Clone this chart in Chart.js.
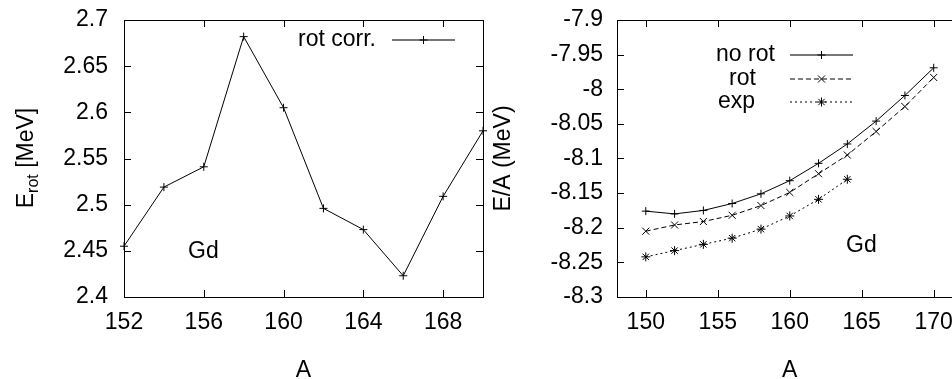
<!DOCTYPE html>
<html>
<head>
<meta charset="utf-8">
<script src="https://cdn.jsdelivr.net/npm/chart.js@4.4.0/dist/chart.umd.min.js"></script>
<style>
  html, body { margin: 0; padding: 0; background: #fff; overflow: hidden; }
  #wrap { position: relative; width: 952px; height: 379px; overflow: hidden; }
  #left { position: absolute; left: 0; top: 0; width: 488px; height: 379px; }
  #right { position: absolute; left: 488px; top: 0; width: 490px; height: 379px; }
</style>
</head>
<body>
<div id="wrap">
  <canvas id="left" width="488" height="379"></canvas>
  <canvas id="right" width="490" height="379"></canvas>
</div>
<script>
// rotational correction energy vs mass number
const massRot = [152, 154, 156, 158, 160, 162, 164, 166, 168, 170];
const eRot = [2.455, 2.519, 2.541, 2.682, 2.605, 2.496, 2.473, 2.423, 2.509, 2.58];

// binding energy per nucleon
const massBind = [150, 152, 154, 156, 158, 160, 162, 164, 166, 168, 170];
const bindNoRot = [-8.176, -8.180, -8.175, -8.165, -8.151, -8.132, -8.107, -8.079, -8.046, -8.009, -7.969];
const bindRot = [-8.205, -8.196, -8.191, -8.182, -8.168, -8.149, -8.122, -8.095, -8.061, -8.025, -7.983];
const massExp = [150, 152, 154, 156, 158, 160, 162, 164];
const bindExp = [-8.242, -8.233, -8.224, -8.215, -8.202, -8.183, -8.159, -8.130];

// tick labels
const leftXTicks = [152, 156, 160, 164, 168];
const leftYTicks = [2.4, 2.45, 2.5, 2.55, 2.6, 2.65, 2.7];
const rightXTicks = [150, 155, 160, 165, 170];
const rightYTicks = [-8.3, -8.25, -8.2, -8.15, -8.1, -8.05, -8, -7.95, -7.9];

const FONT_FAMILY = '"Liberation Sans", Arial, sans-serif';
const FONT = '23px ' + FONT_FAMILY;

// E_rot [MeV], drawn piecewise so "rot" can sit as a subscript
const eRotTitle = [
  { text: 'E', size: 23, shift: 0 },
  { text: 'rot', size: 16, shift: 5 },
  { text: ' [MeV]', size: 23, shift: 0 }
];

const pts = (xs, ys) => xs.map((x, i) => ({ x: x, y: ys[i] }));
const fixedTicks = (list) => (scale) => { scale.ticks = list.map(v => ({ value: v })); };

// box round the plot with inward ticks on all four sides
const framePlugin = {
  id: 'frame',
  afterDatasetsDraw(chart) {
    const { ctx, chartArea: a, scales } = chart;
    const len = 7;
    ctx.save();
    ctx.strokeStyle = '#000';
    ctx.lineWidth = 1;
    ctx.beginPath();
    scales.x.ticks.forEach(t => {
      const px = Math.round(scales.x.getPixelForValue(t.value)) + 0.5;
      ctx.moveTo(px, a.bottom); ctx.lineTo(px, a.bottom - len);
      ctx.moveTo(px, a.top); ctx.lineTo(px, a.top + len);
    });
    scales.y.ticks.forEach(t => {
      const py = Math.round(scales.y.getPixelForValue(t.value)) + 0.5;
      ctx.moveTo(a.left, py); ctx.lineTo(a.left + len, py);
      ctx.moveTo(a.right, py); ctx.lineTo(a.right - len, py);
    });
    ctx.stroke();
    ctx.strokeRect(Math.round(a.left) + 0.5, Math.round(a.top) + 0.5,
      Math.round(a.right - a.left), Math.round(a.bottom - a.top));
    ctx.restore();
  }
};

// gnuplot-like key plus free text labels
const keyPlugin = {
  id: 'key',
  afterDraw(chart, args, opts) {
    const ctx = chart.ctx;
    ctx.save();
    ctx.font = FONT;
    ctx.textBaseline = 'middle';
    ctx.fillStyle = '#000';
    chart.data.datasets.forEach((ds, i) => {
      const row = opts.rows[i];
      if (!row) return;
      ctx.textAlign = row.align || 'left';
      ctx.fillText(ds.label, row.tx, row.y);
      ctx.strokeStyle = row.color || '#000';
      ctx.lineWidth = row.width || 1;
      ctx.setLineDash(ds.borderDash || []);
      ctx.beginPath();
      ctx.moveTo(opts.x0, row.y);
      ctx.lineTo(opts.x1, row.y);
      ctx.stroke();
      ctx.setLineDash([]);
      ctx.strokeStyle = '#000';
      ctx.lineWidth = 1;
      Chart.helpers.drawPoint(ctx, {
        pointStyle: ds.pointStyle, radius: ds.pointRadius, borderWidth: 1, rotation: 0
      }, (opts.x0 + opts.x1) / 2, row.y);
    });
    ctx.textAlign = 'left';
    (opts.notes || []).forEach(n => ctx.fillText(n.text, n.x, n.y));
    ctx.restore();
  }
};

// rotated y title with subscript on the left panel
const subTitlePlugin = {
  id: 'subTitle',
  afterDraw(chart) {
    const ctx = chart.ctx;
    ctx.save();
    ctx.translate(25, 158);
    ctx.rotate(-Math.PI / 2);
    ctx.fillStyle = '#000';
    ctx.textAlign = 'left';
    ctx.textBaseline = 'alphabetic';
    let total = 0;
    eRotTitle.forEach(p => {
      ctx.font = p.size + 'px ' + FONT_FAMILY;
      total += ctx.measureText(p.text).width;
    });
    let cx = -total / 2;
    eRotTitle.forEach(p => {
      ctx.font = p.size + 'px ' + FONT_FAMILY;
      ctx.fillText(p.text, cx, 8 + p.shift);
      cx += ctx.measureText(p.text).width;
    });
    ctx.restore();
  }
};

const tickFont = { family: FONT_FAMILY, size: 23 };

function axisX(min, max, ticks, fitHeight) {
  return {
    type: 'linear', min: min, max: max,
    afterBuildTicks: fixedTicks(ticks),
    afterFit: (s) => { s.height = fitHeight; s.paddingLeft = 0; s.paddingRight = 0; },
    grid: { display: false }, border: { display: false },
    ticks: { color: '#000', font: tickFont, padding: 4, maxRotation: 0, autoSkip: false },
    title: { display: true, text: 'A', color: '#000', font: tickFont, padding: { top: 0, bottom: -5 } }
  };
}

function axisY(min, max, ticks, fitWidth, pad, title) {
  return {
    type: 'linear', min: min, max: max,
    afterBuildTicks: fixedTicks(ticks),
    afterFit: (s) => { s.width = fitWidth; s.paddingTop = 0; s.paddingBottom = 0; },
    grid: { display: false }, border: { display: false },
    ticks: { color: '#000', font: tickFont, padding: pad, autoSkip: false,
      callback: (v) => String(+v.toFixed(2)) },
    title: title ? { display: true, text: title, color: '#000', font: tickFont, padding: { top: 2, bottom: 0 } } : { display: false }
  };
}

const baseLine = {
  borderColor: '#000', borderWidth: 1, pointBorderColor: '#000', pointBackgroundColor: '#000',
  pointBorderWidth: 1, pointHoverRadius: 4, fill: false, tension: 0, clip: 12
};

new Chart(document.getElementById('left'), {
  type: 'line',
  data: {
    datasets: [
      Object.assign({}, baseLine, { label: 'rot corr.', data: pts(massRot, eRot), pointStyle: 'cross', pointRadius: 4 })
    ]
  },
  options: {
    responsive: false, animation: false, events: [],
    layout: { padding: { top: 20, right: 5, left: 0, bottom: 0 } },
    scales: {
      x: axisX(152, 170, leftXTicks, 82),
      y: axisY(2.4, 2.7, leftYTicks, 124, 8, null)
    },
    plugins: {
      legend: { display: false }, tooltip: { enabled: false },
      key: {
        x0: 392, x1: 455,
        rows: [{ tx: 376, y: 40, align: 'right', color: '#777', width: 2 }],
        notes: [{ text: 'Gd', x: 188, y: 252 }]
      }
    }
  },
  plugins: [framePlugin, keyPlugin, subTitlePlugin]
});

new Chart(document.getElementById('right'), {
  type: 'line',
  data: {
    datasets: [
      Object.assign({}, baseLine, { label: 'no rot', data: pts(massBind, bindNoRot), pointStyle: 'cross', pointRadius: 4 }),
      Object.assign({}, baseLine, { label: 'rot', data: pts(massBind, bindRot), pointStyle: 'crossRot', pointRadius: 5, borderDash: [5, 3] }),
      Object.assign({}, baseLine, { label: 'exp', data: pts(massExp, bindExp), pointStyle: 'star', pointRadius: 4.5, borderDash: [2, 3] })
    ]
  },
  options: {
    responsive: false, animation: false, events: [],
    layout: { padding: { top: 20, right: 15.5, left: 0, bottom: 0 } },
    scales: {
      x: axisX(148, 172, rightXTicks, 82),
      y: axisY(-8.3, -7.9, rightYTicks, 129, 6, 'E/A (MeV)')
    },
    plugins: {
      legend: { display: false }, tooltip: { enabled: false },
      key: {
        x0: 302, x1: 365,
        rows: [
          { tx: 228, y: 55, color: '#777', width: 2 },
          { tx: 241, y: 79 },
          { tx: 230, y: 102 }
        ],
        notes: [{ text: 'Gd', x: 358, y: 246 }]
      }
    }
  },
  plugins: [framePlugin, keyPlugin]
});
</script>
</body>
</html>
